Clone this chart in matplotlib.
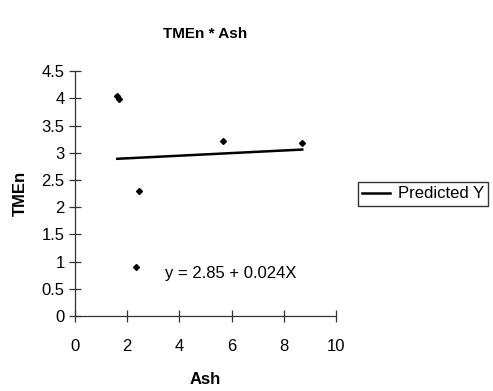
import matplotlib
matplotlib.use("Agg")
from matplotlib import pyplot as plt

plt.rcParams['font.family'] = ['Liberation Sans', 'DejaVu Sans']

ash = [1.62, 1.70, 2.45, 2.35, 5.67, 8.70]
tmen = [4.05, 3.98, 2.30, 0.90, 3.22, 3.18]
intercept = 2.85
slope = 0.024
line_x = [min(ash), max(ash)]
line_y = [intercept + slope * x for x in line_x]

fig = plt.figure(figsize=(4.93, 3.91), dpi=100)
ax = fig.add_axes([0.152, 0.192, 0.530, 0.626])

ax.plot(ash, tmen, marker="D", markersize=3, linestyle="", color="black")
ax.plot(line_x, line_y, color="black", linewidth=1.8, label="Predicted Y")
ax.text(3.45, 0.78, "y = 2.85 + 0.024X", fontsize=12, ha="left", va="center")

ax.set_xlim(0, 10)
ax.set_ylim(0, 4.5)
ax.set_xticks([0, 2, 4, 6, 8, 10])
ax.set_yticks([0, 0.5, 1, 1.5, 2, 2.5, 3, 3.5, 4, 4.5])
ax.set_yticklabels(["0", "0.5", "1", "1.5", "2", "2.5", "3", "3.5", "4", "4.5"])
ax.spines['top'].set_visible(False)
ax.spines['right'].set_visible(False)
for side in ['left', 'bottom']:
    ax.spines[side].set_color("#333333")
    ax.spines[side].set_linewidth(0.9)
ax.tick_params(direction="inout", length=9, width=0.9, color="#333333", labelsize=12)
ax.tick_params(axis="x", pad=12)
ax.tick_params(axis="y", pad=3)
ax.set_xlabel("Ash", fontsize=12, fontweight="bold", labelpad=13)
ax.set_ylabel("TMEn", fontsize=12, fontweight="bold", labelpad=10)
ax.set_title("TMEn * Ash", fontsize=11, fontweight="bold", pad=24)

leg = fig.legend(loc="center left", bbox_to_anchor=(0.726, 0.504), fontsize=12,
                 frameon=True, fancybox=False, edgecolor="black", handlelength=1.7,
                 borderpad=0.25, handletextpad=0.45, borderaxespad=0)
leg.get_frame().set_linewidth(1)

fig.savefig("out.png", dpi=100)
